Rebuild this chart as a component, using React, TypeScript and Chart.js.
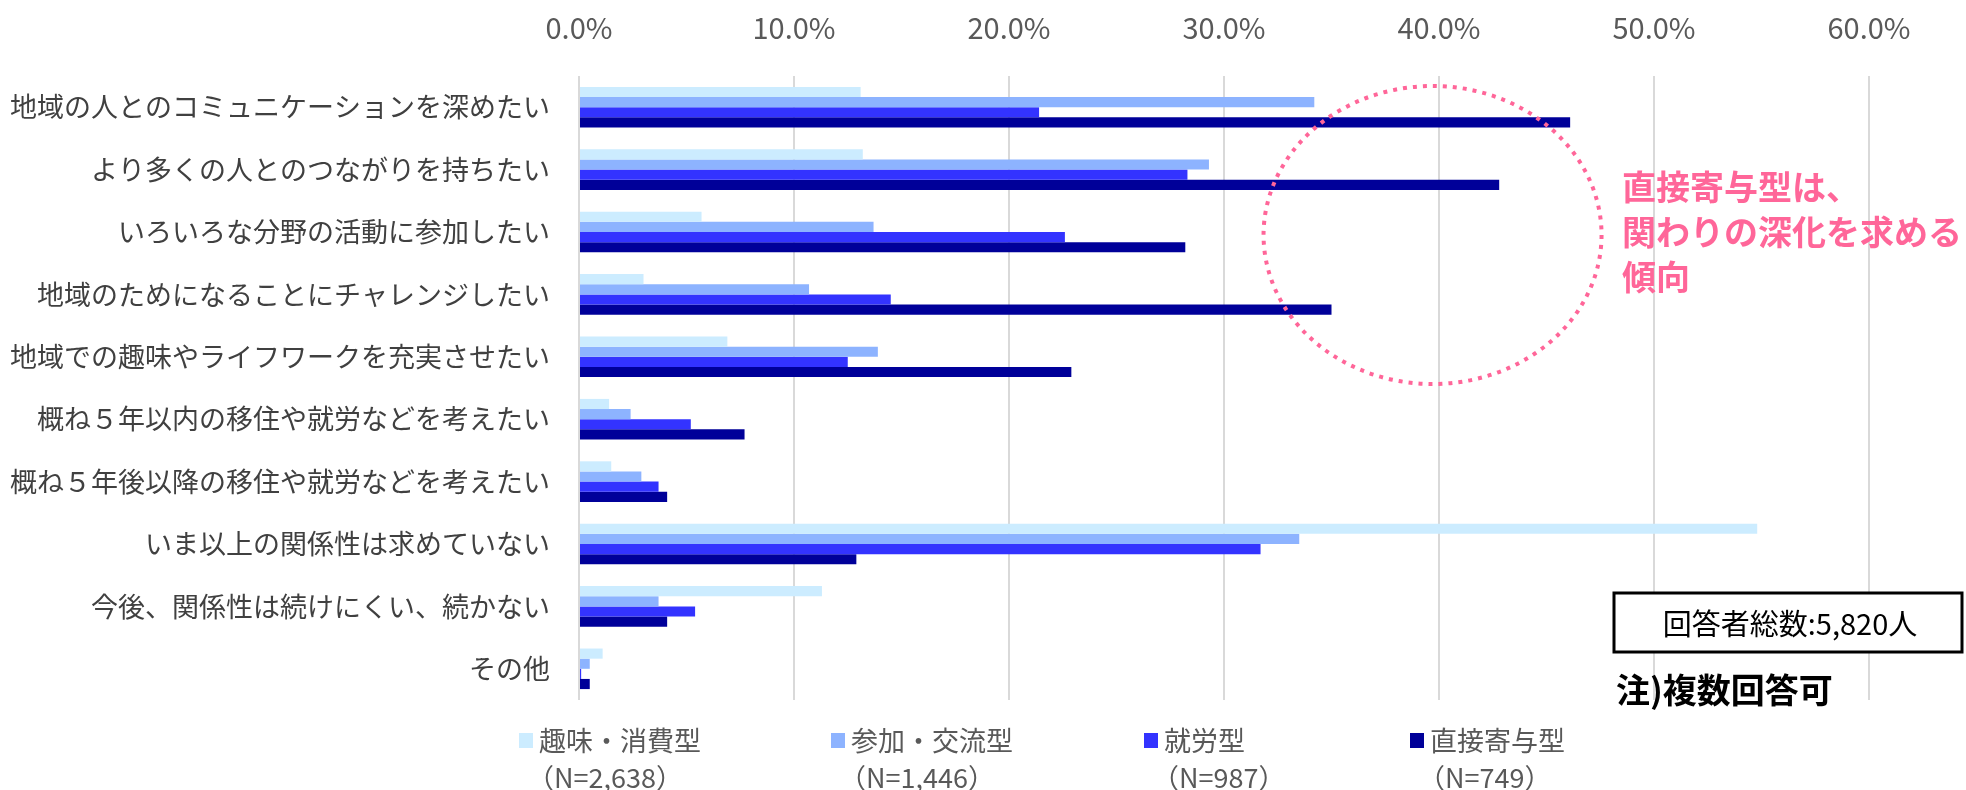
import React, { useEffect, useRef } from "react";
import { Chart, registerables } from "chart.js";
Chart.register(...registerables);

const categories = [
  "地域の人とのコミュニケーションを深めたい",
  "より多くの人とのつながりを持ちたい",
  "いろいろな分野の活動に参加したい",
  "地域のためになることにチャレンジしたい",
  "地域での趣味やライフワークを充実させたい",
  "概ね５年以内の移住や就労などを考えたい",
  "概ね５年後以降の移住や就労などを考えたい",
  "いま以上の関係性は求めていない",
  "今後、関係性は続けにくい、続かない",
  "その他",
];

const seriesNames = ["趣味・消費型", "参加・交流型", "就労型", "直接寄与型"];
const seriesN = ["（N=2,638）", "（N=1,446）", "（N=987）", "（N=749）"];
const seriesColors = ["#CCECFF", "#8DB3FF", "#3333FF", "#000099"];

const hobby = [13.1, 13.2, 5.7, 3.0, 6.9, 1.4, 1.5, 54.8, 11.3, 1.1];
const participate = [34.2, 29.3, 13.7, 10.7, 13.9, 2.4, 2.9, 33.5, 3.7, 0.5];
const work = [21.4, 28.3, 22.6, 14.5, 12.5, 5.2, 3.7, 31.7, 5.4, 0.1];
const direct = [46.1, 42.8, 28.2, 35.0, 22.9, 7.7, 4.1, 12.9, 4.1, 0.5];

const xTicks = [0, 10, 20, 30, 40, 50, 60];

const noteLines = ["直接寄与型は、", "関わりの深化を求める", "傾向"];
const totalText = "回答者総数:5,820人";
const footText = "注)複数回答可";

const FONT = '"Noto Sans CJK JP", "Noto Sans", sans-serif';

const overlayPlugin = {
  id: "overlay",
  afterDraw(chart: any) {
    const ctx = chart.ctx as CanvasRenderingContext2D;
    const xs = chart.scales.x;
    ctx.save();
    // dotted ellipse
    const cx = xs.getPixelForValue(39.7);
    ctx.beginPath();
    ctx.ellipse(cx, 235, 169, 149, 0, 0, Math.PI * 2);
    ctx.strokeStyle = "#FF6699";
    ctx.lineWidth = 4;
    ctx.setLineDash([4, 6]);
    ctx.stroke();
    ctx.setLineDash([]);

    // pink annotation
    ctx.fillStyle = "#FF6699";
    ctx.font = `bold 34px ${FONT}`;
    ctx.textAlign = "left";
    ctx.textBaseline = "middle";
    noteLines.forEach((t, i) => ctx.fillText(t, 1622, 187 + i * 45));

    // total box
    ctx.fillStyle = "#FFFFFF";
    ctx.fillRect(1614, 593, 348, 59);
    ctx.strokeStyle = "#000000";
    ctx.lineWidth = 3;
    ctx.strokeRect(1614, 593, 348, 59);
    ctx.fillStyle = "#000000";
    ctx.font = `29px ${FONT}`;
    ctx.textAlign = "center";
    ctx.fillText(totalText, 1790, 624);

    ctx.font = `bold 34px ${FONT}`;
    ctx.textAlign = "left";
    ctx.fillText(footText, 1616, 690);

    // legend
    const lx = [519, 831, 1144, 1410];
    ctx.font = `27px ${FONT}`;
    seriesNames.forEach((name, i) => {
      ctx.fillStyle = seriesColors[i];
      ctx.fillRect(lx[i], 733, 14, 15);
      ctx.fillStyle = "#595959";
      ctx.textAlign = "left";
      ctx.fillText(name, lx[i] + 20, 741);
      ctx.fillText(seriesN[i], lx[i] + 8, 778);
    });
    ctx.restore();
  },
};

export default function App() {
  const ref = useRef<HTMLCanvasElement>(null);
  useEffect(() => {
    if (!ref.current) return;
    const chart = new Chart(ref.current, {
      type: "bar",
      data: {
        labels: categories,
        datasets: [hobby, participate, work, direct].map((d, i) => ({
          label: seriesNames[i],
          data: d,
          backgroundColor: seriesColors[i],
          borderWidth: 0,
          categoryPercentage: 0.65,
          barPercentage: 1.0,
        })),
      },
      options: {
        indexAxis: "y",
        responsive: false,
        animation: false,
        layout: { padding: { left: 0, right: 97, top: 0, bottom: 90 } },
        plugins: {
          legend: { display: false },
          tooltip: { enabled: false },
        },
        scales: {
          x: {
            position: "top",
            min: 0,
            max: 60,
            afterBuildTicks: (s: any) => {
              s.ticks = xTicks.map((v) => ({ value: v }));
            },
            afterFit: (s: any) => {
              s.height = 76;
            },
            ticks: {
              padding: 31,
              color: "#595959",
              font: { family: FONT, size: 29 },
              callback: (v: any) => Number(v).toFixed(1) + "%",
            },
            grid: { color: "#D9D9D9", lineWidth: 2, drawTicks: false },
            border: { display: false },
          },
          y: {
            afterFit: (s: any) => {
              s.width = 579;
            },
            ticks: {
              autoSkip: false,
              padding: 29,
              color: "#404040",
              font: { family: FONT, size: 27 },
            },
            grid: { display: false, drawTicks: false },
            border: { display: false },
          },
        },
      },
      plugins: [overlayPlugin],
    });
    return () => chart.destroy();
  }, []);
  return (
    <div style={{ position: "absolute", left: 0, top: 0, width: 1966, height: 790 }}>
      <canvas ref={ref} width={1966} height={790} />
    </div>
  );
}
